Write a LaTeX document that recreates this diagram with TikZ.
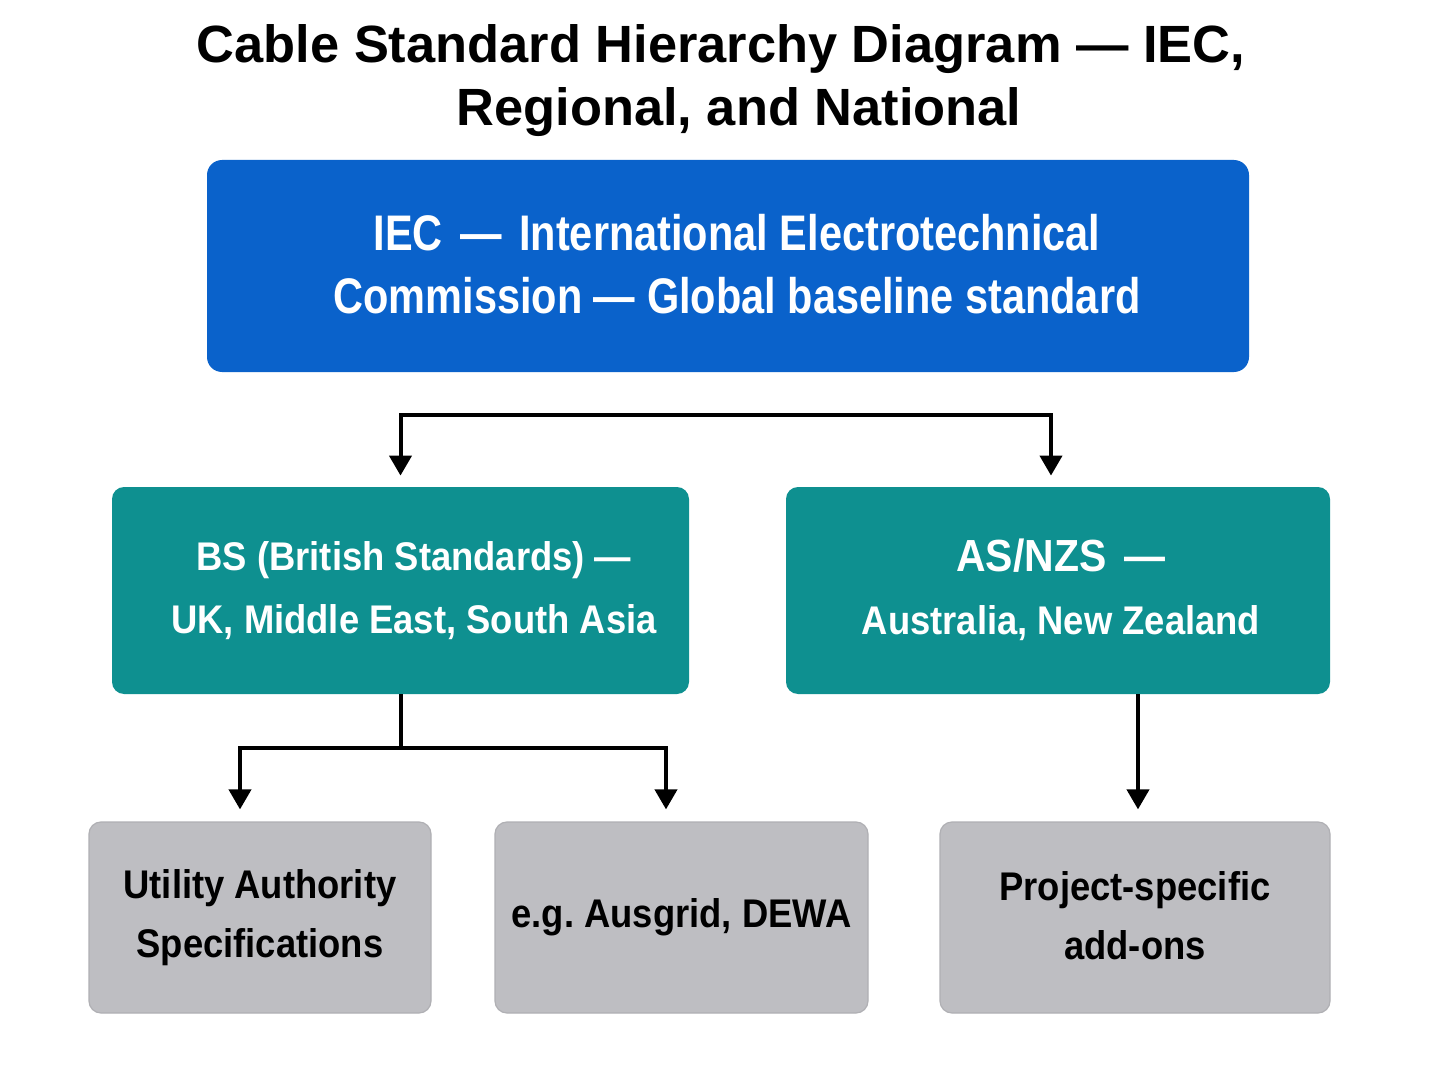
\documentclass[tikz,border=0pt]{standalone}
\usepackage{fontspec}
\setmainfont{Liberation Sans}
\newfontfamily\iecfont{Liberation Sans}[FakeStretch=0.83]
\newfontfamily\regfont{Liberation Sans}[FakeStretch=0.91]
\usetikzlibrary{arrows.meta}
\definecolor{iecblue}{HTML}{0A62CB}
\definecolor{teal2}{HTML}{0E9090}
\definecolor{boxgray}{HTML}{BEBEC2}
\definecolor{graydge}{HTML}{B0B0B4}
\tikzset{
  iecbox/.style={fill=iecblue, rounded corners=7.5pt, text=white, align=center,
    font=\iecfont\bfseries\fontsize{25}{31.5}\selectfont},
  regbox/.style={fill=teal2, rounded corners=6pt, text=white, align=center,
    font=\regfont\bfseries\fontsize{20}{31.5}\selectfont},
  graybox/.style={fill=boxgray, draw=graydge, line width=0.6pt, rounded corners=6pt, text=black, align=center,
    font=\regfont\bfseries\fontsize{20}{29.5}\selectfont},
  conn/.style={line width=2pt, draw=black},
  arr/.style={conn, -{Triangle[width=11pt,length=10pt]}},
}
\begin{document}
\begin{tikzpicture}[x=0.5pt,y=-0.5pt]
\useasboundingbox (0,0) rectangle (1448,1086);
\fill[white] (0,0) rectangle (1448,1086);
% title
\node[align=center, font=\bfseries\fontsize{26.2}{31.5}\selectfont] (title) at (721,81)
  {Cable Standard Hierarchy Diagram — IEC,\\\hspace*{18pt}Regional, and National};
% boxes
\node[iecbox, minimum width=521pt, minimum height=106pt] (iec) at (728,266) {};
\node[font=\iecfont\bfseries\fontsize{25}{31.5}\selectfont, text=white, align=center] (iect) at (737,264)
  {IEC\hspace{0.12em} — \hspace{0.12em}International Electrotechnical\\Commission — Global baseline standard};
\node[regbox, minimum width=288.5pt, minimum height=103.5pt] (bs) at (400.5,590.5) {};
\node[font=\regfont\bfseries\fontsize{20}{31.5}\selectfont, text=white, align=center] (bst) at (414,591)
  {BS (British Standards) —\\UK, Middle East, South Asia};
\node[regbox, minimum width=272pt, minimum height=103.5pt] (as) at (1058,590.5) {};
\node[font=\regfont\bfseries\fontsize{20}{31.5}\selectfont, text=white, align=center] (ast) at (1061,590)
  {{\fontsize{22.5}{31.5}\selectfont AS/NZS\hspace{0.15em} —}\\Australia, New Zealand};
\node[graybox, minimum width=171pt, minimum height=95.5pt] (ua) at (260,917.5)
  {Utility Authority\\Specifications};
\node[graybox, minimum width=186.5pt, minimum height=95.5pt] (eg) at (681.5,917.5)
  {e.g.\ Ausgrid, DEWA};
\node[graybox, minimum width=195pt, minimum height=95.5pt] (pa) at (1135,917.5) {};
\node[font=\regfont\bfseries\fontsize{20}{29.5}\selectfont, align=center] (pat) at (1135,916)
  {Project-specific\\add-ons};
% connectors
\coordinate (bar1) at (725,415);
\draw[arr, shorten >=5.5pt] (bar1) -| (bs.north);
\draw[arr, shorten >=5.5pt] (bar1) -| ([xshift=-3.5pt]as.north);
\draw[conn] (bs.south) -- ++(0,54) coordinate (bsj);
\draw[arr, shorten >=6pt] (bsj) -| ([xshift=-10pt]ua.north);
\draw[arr, shorten >=6pt] (bsj) -| ([xshift=-7.75pt]eg.north);
\draw[arr, shorten >=6pt] ([xshift=1.5pt]pa.north |- as.south) -- ([xshift=1.5pt]pa.north);
\end{tikzpicture}
\end{document}
